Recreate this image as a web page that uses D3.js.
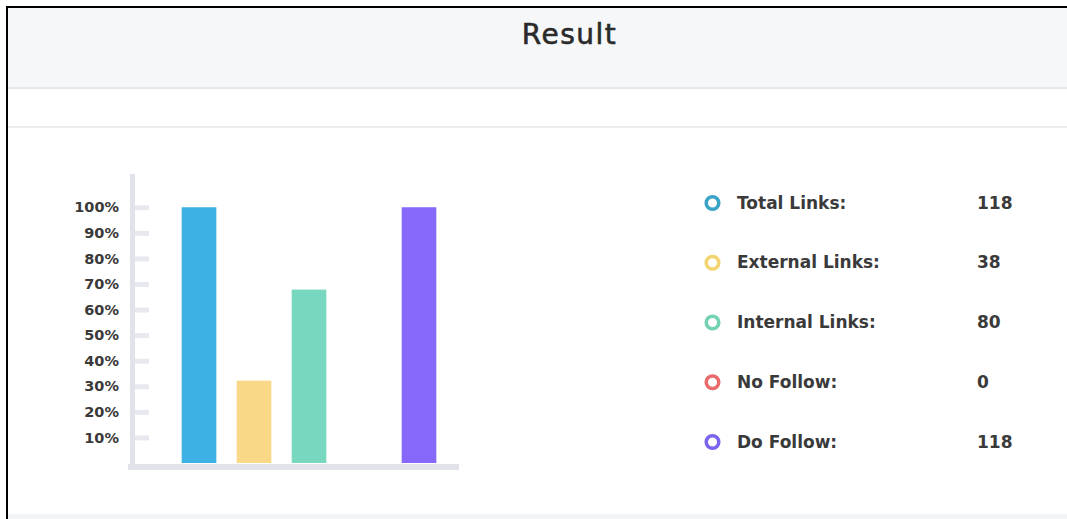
<!DOCTYPE html>
<html>
<head>
<meta charset="utf-8">
<script src="https://cdn.jsdelivr.net/npm/d3@7"></script>
<style>
  body { margin: 0; background: #fff; }
  svg { display: block; }
</style>
</head>
<body>
<div id="wrapper"></div>
<script>
// data
const categories = ["Total Links", "External Links", "Internal Links", "No Follow", "Do Follow"]
const percentValues = [1.0, 0.322, 0.678, 0, 1.0]
const linkCounts = ["118", "38", "80", "0", "118"]
const barColors = ["#3db1e3", "#f9d887", "#77d8bf", "#ee6e6e", "#8668fb"]
const ringColors = ["#3aa3c6", "#f3d470", "#72d2b3", "#e86a6a", "#7b63ee"]
const tickValues = [0.1, 0.2, 0.3, 0.4, 0.5, 0.6, 0.7, 0.8, 0.9, 1.0]

const dataset = categories.map((c, i) => ({
  name: c, pct: percentValues[i], count: linkCounts[i],
  bar: barColors[i], ring: ringColors[i]
}))

const width = 1067
const height = 519
const fontFam = "'DejaVu Sans', sans-serif"

const svg = d3.select("#wrapper")
    .append("svg")
    .attr("width", width)
    .attr("height", height)

// page frame
svg.append("rect")
    .attr("x", 8).attr("y", 8)
    .attr("width", width - 8).attr("height", 80)
    .attr("fill", "#f6f7f9")
svg.append("rect")
    .attr("x", 8).attr("y", 87)
    .attr("width", width - 8).attr("height", 2)
    .attr("fill", "#e6e7ea")
svg.append("rect")
    .attr("x", 8).attr("y", 126)
    .attr("width", width - 8).attr("height", 2)
    .attr("fill", "#ececef")
svg.append("rect")
    .attr("x", 8).attr("y", 514)
    .attr("width", width - 8).attr("height", 5)
    .attr("fill", "#f3f4f6")
svg.append("rect")
    .attr("x", 6).attr("y", 6)
    .attr("width", width - 6).attr("height", 2)
    .attr("fill", "#000")
svg.append("rect")
    .attr("x", 6).attr("y", 6)
    .attr("width", 2).attr("height", height - 6)
    .attr("fill", "#000")

svg.append("text")
    .attr("x", 569.5)
    .attr("y", 44)
    .text("Result")
    .attr("fill", "#2a2a2a")
    .style("font-size", "28px")
    .style("letter-spacing", "1.5px")
    .style("font-family", fontFam)
    .style("text-anchor", "middle")
    .style("stroke", "#2a2a2a")
    .style("stroke-width", 0.6)

// scales
const yScale = d3.scaleLinear()
    .domain([0, 1.13])
    .range([463, 174])

const xScale = d3.scaleBand()
    .domain(categories)
    .range([171.5, 446.5])
    .paddingInner(0.37)
    .paddingOuter(0.185)

const axisColor = "#e2e3ea"

// axis lines
svg.append("line")
    .attr("x1", 132.5).attr("x2", 132.5)
    .attr("y1", yScale.range()[1]).attr("y2", 470)
    .attr("stroke", axisColor)
    .attr("stroke-width", 5)

const yAxis = d3.axisLeft(yScale)
    .tickValues(tickValues)
    .tickFormat(d3.format(".0%"))
    .tickSize(-14)
    .tickPadding(16)

const yAxisG = svg.append("g")
    .attr("transform", "translate(135,0)")
    .call(yAxis)
yAxisG.select(".domain").remove()
yAxisG.selectAll(".tick line")
    .attr("stroke", "#e8e9ef")
    .attr("stroke-width", 5)
yAxisG.selectAll(".tick text")
    .attr("fill", "#3a3a3a")
    .style("font-size", "14.5px")
    .style("font-weight", 700)
    .style("font-family", fontFam)

// bars
svg.append("g")
    .attr("class", "bars")
    .selectAll("rect")
    .data(dataset)
    .enter().append("rect")
    .attr("x", d => xScale(d.name))
    .attr("y", d => yScale(d.pct))
    .attr("width", xScale.bandwidth())
    .attr("height", d => yScale(0) - yScale(d.pct))
    .attr("fill", d => d.bar)

svg.append("line")
    .attr("x1", 128).attr("x2", 459)
    .attr("y1", 467).attr("y2", 467)
    .attr("stroke", axisColor)
    .attr("stroke-width", 6)

// legend
const rowScale = d3.scalePoint()
    .domain(categories)
    .range([203, 442])

const rows = svg.append("g")
    .attr("class", "legend")
    .selectAll("g")
    .data(dataset)
    .enter().append("g")
    .attr("transform", d => `translate(0,${rowScale(d.name)})`)

rows.append("circle")
    .attr("cx", 712.5)
    .attr("cy", 0)
    .attr("r", 6.3)
    .attr("fill", "none")
    .attr("stroke", d => d.ring)
    .attr("stroke-width", 3.5)

rows.append("text")
    .attr("x", 737)
    .attr("y", 5.5)
    .text(d => d.name + ":")
    .attr("fill", "#3a3a3a")
    .style("font-size", "17px")
    .style("font-weight", 700)
    .style("font-family", fontFam)

rows.append("text")
    .attr("x", 977)
    .attr("y", 5.5)
    .text(d => d.count)
    .attr("fill", "#3a3a3a")
    .style("font-size", "17px")
    .style("font-weight", 700)
    .style("font-family", fontFam)
</script>
</body>
</html>
